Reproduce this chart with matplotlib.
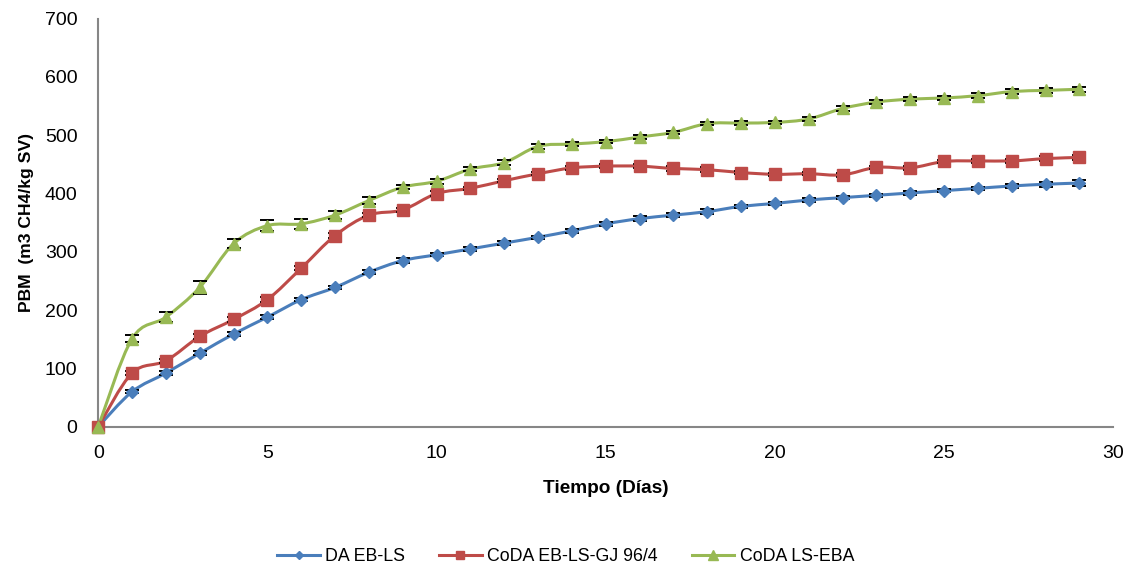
import numpy as np
import matplotlib.pyplot as plt
from matplotlib.path import Path
from matplotlib.patches import PathPatch

# Datos: producción de biometano acumulada por día
dias = list(range(0, 30))

da_eb_ls = [0, 60, 92, 126, 159, 188, 218, 239, 265, 285, 295, 305, 315, 325, 336,
            348, 357, 363, 369, 378, 383, 389, 393, 397, 401, 405, 409, 413, 416, 418]
coda_gj = [0, 92, 113, 155, 184, 218, 272, 328, 363, 372, 400, 409, 422, 434, 444,
           447, 447, 443, 441, 436, 433, 434, 432, 445, 444, 455, 456, 456, 460, 462]
coda_eba = [0, 151, 188, 239, 314, 345, 348, 363, 388, 411, 421, 442, 453, 481, 485,
            489, 497, 505, 520, 521, 522, 528, 546, 557, 562, 564, 568, 575, 577, 579]

err_da = [0, 3, 3, 3, 3, 3, 3, 3, 3, 4, 3, 3, 3, 3, 3,
          3, 4, 4, 4, 3, 3, 3, 3, 3, 3, 3, 3, 4, 4, 5]
err_gj = [0, 3, 3, 4, 4, 4, 4, 4, 4, 4, 4, 3, 3, 3, 3,
          4, 4, 4, 4, 3, 3, 3, 3, 3, 3, 3, 4, 4, 4, 5]
err_eba = [0, 6, 9, 11, 8, 9, 9, 7, 6, 4, 4, 4, 4, 4, 4,
           3, 3, 3, 3, 3, 3, 3, 4, 4, 4, 4, 4, 4, 4, 4]

etiquetas = ['DA EB-LS', 'CoDA EB-LS-GJ 96/4', 'CoDA LS-EBA']
colores = ['#4a7ebb', '#be4b48', '#98b954']
marcadores = ['D', 's', '^']
tam_marc = [6, 8, 9]

plt.rcParams['font.family'] = ['Liberation Sans', 'DejaVu Sans']


def curva_suave(x, y):
    '''Trayectoria Bezier tipo Excel que pasa por todos los puntos'''
    x = np.asarray(x, float)
    y = np.asarray(y, float)
    n = len(x)
    verts = [(x[0], y[0])]
    codes = [Path.MOVETO]
    for i in range(n - 1):
        i0 = max(i - 1, 0)
        i3 = min(i + 2, n - 1)
        c1 = (x[i] + (x[i + 1] - x[i0]) / 6, y[i] + (y[i + 1] - y[i0]) / 6)
        c2 = (x[i + 1] - (x[i3] - x[i]) / 6, y[i + 1] - (y[i3] - y[i]) / 6)
        verts += [c1, c2, (x[i + 1], y[i + 1])]
        codes += [Path.CURVE4] * 3
    return Path(verts, codes)


fig = plt.figure(figsize=(11.36, 5.67), dpi=100)
ax = fig.add_axes([0.0865, 0.2475, 0.8935, 0.7195])

for serie, err, lab, col, mk, ms in zip([da_eb_ls, coda_gj, coda_eba],
                                         [err_da, err_gj, err_eba],
                                         etiquetas, colores, marcadores, tam_marc):
    ax.add_patch(PathPatch(curva_suave(dias, serie), facecolor='none',
                           edgecolor=col, lw=2.2, zorder=2))
    ax.errorbar(dias, serie, yerr=err, fmt='none', ecolor='black',
                elinewidth=1, capsize=5, capthick=1.4, zorder=3)
    ax.plot(dias, serie, linestyle='none', marker=mk, markersize=ms,
            color=col, zorder=4, clip_on=False)
    # entrada de leyenda con linea y marcador
    ax.plot([], [], color=col, lw=2.2, marker=mk, markersize=ms - 2, label=lab)

ax.set_xlim(0, 30)
ax.set_ylim(0, 700)
ax.set_xticks(range(0, 31, 5))
ax.set_yticks(range(0, 701, 100))
ax.tick_params(length=0, labelsize=14)
ax.tick_params(axis='x', pad=13)
ax.tick_params(axis='y', pad=15)
for s in ['top', 'right']:
    ax.spines[s].set_visible(False)
for s in ['left', 'bottom']:
    ax.spines[s].set_color('#868686')
    ax.spines[s].set_linewidth(1.5)

ax.set_xlabel('Tiempo (Días)', fontsize=13.7, fontweight='bold', labelpad=13)
ax.set_ylabel('PBM  (m3 CH4/kg SV)', fontsize=12.6, fontweight='bold', labelpad=8)

fig.legend(loc='center', bbox_to_anchor=(0.498, 0.018), ncol=3, frameon=False,
           fontsize=12.8, handlelength=2.4, columnspacing=1.9, handletextpad=0.3)

plt.savefig('out.png', dpi=100)
